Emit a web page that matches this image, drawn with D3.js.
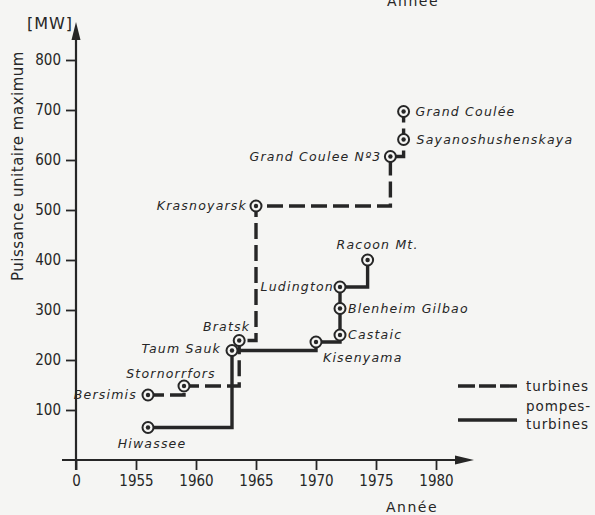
<!DOCTYPE html>
<html>
<head>
<meta charset="utf-8">
<script src="https://cdn.jsdelivr.net/npm/d3@7"></script>
<style>
  html, body { margin: 0; padding: 0; background: #f5f5f3; }
  svg { display: block; }
  text { fill: #262626; }
</style>
</head>
<body>
<div id="chart"></div>
<script>
// turbines (dashed)
const turbineNames = ['Bersimis', 'Stornorrfors', 'Bratsk', 'Krasnoyarsk', 'Grand Coulee Nº3', 'Sayanoshushenskaya', 'Grand Coulée'];
const turbineYears = [1956, 1959, 1963.6, 1965, 1976.2, 1977.3, 1977.3];
const turbineMW = [130, 148, 239, 508, 607, 641, 697];

// pompes-turbines (solid)
const pumpNames = ['Hiwassee', 'Taum Sauk', 'Kisenyama', 'Castaic', 'Blenheim Gilbao', 'Ludington', 'Racoon Mt.'];
const pumpYears = [1956, 1963, 1970, 1972, 1972, 1972, 1974.3];
const pumpMW = [65, 219, 236, 250, 303, 346, 400];

const yTicks = [100, 200, 300, 400, 500, 600, 700, 800];
const xTicks = [1950, 1955, 1960, 1965, 1970, 1975, 1980];
const xTickLabels = ['0', '1955', '1960', '1965', '1970', '1975', '1980'];

const width = 595;
const height = 515;
const ink = '#262626';

const x = d3.scaleLinear().domain([1950, 1980]).range([76, 436]);
const y = d3.scaleLinear().domain([0, 800]).range([460, 60]);

const svg = d3.select('#chart')
    .append('svg')
    .attr('width', width)
    .attr('height', height);

// label placement next to each marker
const labelPos = {
  'Bersimis': {dx: -11, dy: 4, anchor: 'end'},
  'Stornorrfors': {dx: -13, dy: -8, anchor: 'middle'},
  'Bratsk': {dx: 11, dy: -10, anchor: 'end'},
  'Krasnoyarsk': {dx: -9, dy: 4, anchor: 'end'},
  'Grand Coulee Nº3': {dx: -9, dy: 4, anchor: 'end'},
  'Sayanoshushenskaya': {dx: 13, dy: 4, anchor: 'start'},
  'Grand Coulée': {dx: 12, dy: 4, anchor: 'start'},
  'Hiwassee': {dx: 4, dy: 20, anchor: 'middle'},
  'Taum Sauk': {dx: -11, dy: 2, anchor: 'end'},
  'Kisenyama': {dx: 7, dy: 20, anchor: 'start'},
  'Castaic': {dx: 8, dy: 4, anchor: 'start'},
  'Blenheim Gilbao': {dx: 8, dy: 4, anchor: 'start'},
  'Ludington': {dx: -6, dy: 4, anchor: 'end'},
  'Racoon Mt.': {dx: 10, dy: -11, anchor: 'middle'}
};

// Axes
const yAxis = svg.append('g')
    .attr('transform', `translate(${x(1950)},0)`)
    .call(d3.axisLeft(y).tickValues(yTicks).tickSize(10).tickPadding(5));

const xAxis = svg.append('g')
    .attr('transform', `translate(0,${y(0)})`)
    .call(d3.axisBottom(x).tickValues(xTicks).tickSize(10).tickPadding(5)
        .tickFormat((d, i) => xTickLabels[i]));

[yAxis, xAxis].forEach(g => {
  g.select('.domain').remove();
  g.selectAll('line').attr('stroke', ink).attr('stroke-width', 1.8);
  g.selectAll('text')
      .attr('fill', ink)
      .style('font-family', '"DejaVu Sans Condensed", "DejaVu Sans", sans-serif')
      .style('font-size', '15px');
});

// axis lines with arrow heads
svg.append('line')
    .attr('x1', x(1950)).attr('x2', x(1950))
    .attr('y1', y(0) + 10).attr('y2', 34)
    .attr('stroke', ink).attr('stroke-width', 2.2);
svg.append('path')
    .attr('d', `M${x(1950)},22 L${x(1950) - 4.5},40 L${x(1950) + 4.5},40 Z`)
    .attr('fill', ink);

svg.append('line')
    .attr('x1', 62).attr('x2', 462)
    .attr('y1', y(0)).attr('y2', y(0))
    .attr('stroke', ink).attr('stroke-width', 2.2);
svg.append('path')
    .attr('d', `M474,${y(0)} L455,${y(0) - 4.5} L455,${y(0) + 4.5} Z`)
    .attr('fill', ink);

// axis titles
svg.append('text')
    .attr('x', 50).attr('y', 29)
    .attr('text-anchor', 'middle')
    .style('font-family', '"DejaVu Sans", sans-serif')
    .style('font-size', '16px')
    .style('letter-spacing', '1px')
    .text('[MW]');

svg.append('text')
    .attr('transform', 'translate(23,166) rotate(-90)')
    .attr('text-anchor', 'middle')
    .style('font-family', '"DejaVu Sans", sans-serif')
    .style('font-size', '15px')
    .style('letter-spacing', '0.5px')
    .text('Puissance unitaire maximum');

svg.append('text')
    .attr('x', 412).attr('y', 512)
    .attr('text-anchor', 'middle')
    .style('font-family', '"DejaVu Sans", sans-serif')
    .style('font-size', '14px')
    .style('letter-spacing', '1.5px')
    .text('Année');

// cut-off title of the figure above (scan)
svg.append('text')
    .attr('x', 413).attr('y', 6)
    .attr('text-anchor', 'middle')
    .style('font-family', '"DejaVu Sans", sans-serif')
    .style('font-size', '14px')
    .style('letter-spacing', '1.5px')
    .text('Année');

// Step lines
const step = d3.line()
    .x(d => x(d.year))
    .y(d => y(d.mw))
    .curve(d3.curveStepAfter);

const series = [
  {names: turbineNames, years: turbineYears, values: turbineMW, dash: '16,6'},
  {names: pumpNames, years: pumpYears, values: pumpMW, dash: null}
];

series.forEach(s => {
  const pts = s.names.map((n, i) => ({name: n, year: s.years[i], mw: s.values[i]}));

  svg.append('path')
      .datum(pts)
      .attr('d', step)
      .attr('fill', 'none')
      .attr('stroke', ink)
      .attr('stroke-width', 3.4)
      .attr('stroke-dasharray', s.dash);

  const marks = svg.selectAll(null)
      .data(pts)
      .join('g')
      .attr('transform', d => `translate(${x(d.year)},${y(d.mw)})`);

  marks.append('circle')
      .attr('r', 5.5)
      .attr('fill', '#f5f5f3')
      .attr('stroke', ink)
      .attr('stroke-width', 2);
  marks.append('circle')
      .attr('r', 2.2)
      .attr('fill', ink);

  marks.append('text')
      .attr('x', d => labelPos[d.name].dx)
      .attr('y', d => labelPos[d.name].dy)
      .attr('text-anchor', d => labelPos[d.name].anchor)
      .style('font-family', '"DejaVu Sans", sans-serif')
      .style('font-style', 'italic')
      .style('font-size', '12.5px')
      .style('letter-spacing', '1.2px')
      .text(d => d.name);
});

// Legend
const legend = svg.append('g');
legend.append('line')
    .attr('x1', 458).attr('x2', 517)
    .attr('y1', 386).attr('y2', 386)
    .attr('stroke', ink).attr('stroke-width', 3.4)
    .attr('stroke-dasharray', '17,4');
legend.append('line')
    .attr('x1', 458).attr('x2', 517)
    .attr('y1', 420).attr('y2', 420)
    .attr('stroke', ink).attr('stroke-width', 3.4);

const legendText = [['turbines', 391], ['pompes-', 411], ['turbines', 429]];
legend.selectAll('text')
    .data(legendText)
    .join('text')
    .attr('x', 526)
    .attr('y', d => d[1])
    .style('font-family', '"DejaVu Sans", sans-serif')
    .style('font-size', '13.5px')
    .style('letter-spacing', '0.9px')
    .text(d => d[0]);
</script>
</body>
</html>
